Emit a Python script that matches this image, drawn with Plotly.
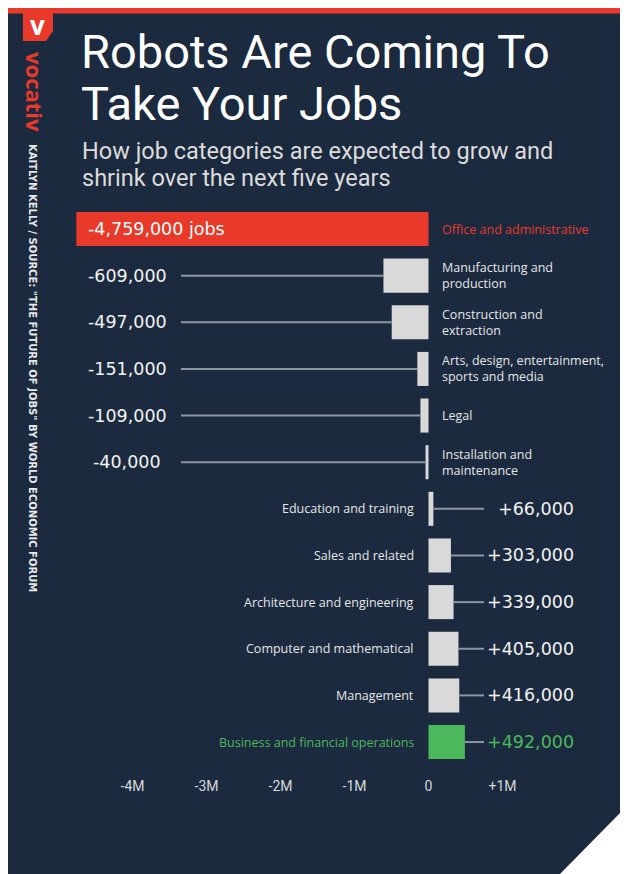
import plotly.graph_objects as go

# ---------------- data ----------------
categories = [
    "Office and administrative",
    "Manufacturing and<br>production",
    "Construction and<br>extraction",
    "Arts, design, entertainment,<br>sports and media",
    "Legal",
    "Installation and<br>maintenance",
    "Education and training",
    "Sales and related",
    "Architecture and engineering",
    "Computer and mathematical",
    "Management",
    "Business and financial operations",
]
values = [-4759000, -609000, -497000, -151000, -109000, -40000,
          66000, 303000, 339000, 405000, 416000, 492000]
tick_values = [-4000000, -3000000, -2000000, -1000000, 0, 1000000]
tick_labels = ["-4M", "-3M", "-2M", "-1M", "0", "+1M"]

title_lines = ["Robots Are Coming To", "Take Your Jobs"]
subtitle_lines = ["How job categories are expected to grow and",
                  "shrink over the next five years"]
credit = 'KAITLYN KELLY / SOURCE: "THE FUTURE OF JOBS" BY WORLD ECONOMIC FORUM'

# ---------------- layout constants (window pixel coords) ----------------
WIN_W, WIN_H = 628, 874
OFF = 8                      # page body margin
W, H = WIN_W - OFF, WIN_H - OFF
ZERO_PX = 428.5
PX_PER_UNIT = 74 / 1e6
ROW0_PX = 229
ROW_STEP = 46.64

NAVY = "#1b2a3e"
RED = "#e8392a"
GREEN = "#4cb85c"
GRAY = "#d9d9d9"
LINE = "#8d97a2"
TXT = "#e6e6e6"


def px2x(px):
    return (px - ZERO_PX) / PX_PER_UNIT


def pxx(px):
    return (px - OFF) / W


def pxy(py):
    return 1 - (py - OFF) / H


n = len(values)
idx = list(range(n))
imin = values.index(min(values))
imax = values.index(max(values))
colors = [RED if i == imin else GREEN if i == imax else GRAY for i in idx]

fig = go.Figure()

# connector lines
neg_x, neg_y, pos_x, pos_y = [], [], [], []
for i, v in enumerate(values):
    if i == imin:
        continue
    if v < 0:
        neg_x += [px2x(181), v, None]
        neg_y += [i, i, None]
    else:
        pos_x += [v, px2x(484), None]
        pos_y += [i, i, None]
fig.add_trace(go.Scatter(x=neg_x, y=neg_y, mode="lines",
                         line=dict(color=LINE, width=2), hoverinfo="skip"))
fig.add_trace(go.Scatter(x=pos_x, y=pos_y, mode="lines",
                         line=dict(color=LINE, width=2), hoverinfo="skip"))

fig.add_trace(go.Bar(x=values, y=idx, orientation="h", width=0.73,
                     marker=dict(color=colors, line=dict(width=0)),
                     hoverinfo="skip"))

ann = []
VAL_FONT = "DejaVu Sans"
LAB_FONT = "Open Sans"
for i, (c, v) in enumerate(zip(categories, values)):
    col_lab = RED if i == imin else GREEN if i == imax else TXT
    col_val = GREEN if i == imax else "#f2f2f2"
    if v < 0:
        if i == imin:
            ann.append(dict(x=pxx(86), xref="paper", y=i, yref="y",
                            text=f"-{abs(v):,} jobs", xanchor="left",
                            showarrow=False,
                            font=dict(family=VAL_FONT, size=17.5, color="#ffffff")))
        else:
            ann.append(dict(x=pxx(127), xref="paper", y=i, yref="y",
                            text=f"-{abs(v):,}", xanchor="center",
                            showarrow=False,
                            font=dict(family=VAL_FONT, size=17.5, color=col_val)))
        ann.append(dict(x=pxx(440), xref="paper", y=i, yref="y", text=c,
                        xanchor="left", align="left", showarrow=False,
                        font=dict(family=LAB_FONT, size=12.5, color=col_lab)))
    else:
        ann.append(dict(x=pxx(576), xref="paper", y=i, yref="y",
                        text=f"+{v:,}", xanchor="right", showarrow=False,
                        font=dict(family=VAL_FONT, size=17.5, color=col_val)))
        ann.append(dict(x=pxx(416), xref="paper", y=i, yref="y", text=c,
                        xanchor="right", align="right", showarrow=False,
                        font=dict(family=LAB_FONT, size=12.5, color=col_lab)))

# titles
ann.append(dict(x=pxx(79), y=pxy(51), xref="paper", yref="paper",
                text=title_lines[0], xanchor="left", yanchor="middle",
                showarrow=False, font=dict(family="Roboto", size=47, color="#ffffff")))
ann.append(dict(x=pxx(79), y=pxy(104), xref="paper", yref="paper",
                text=title_lines[1], xanchor="left", yanchor="middle",
                showarrow=False, font=dict(family="Roboto", size=47, color="#ffffff")))
ann.append(dict(x=pxx(80), y=pxy(151), xref="paper", yref="paper",
                text=subtitle_lines[0], xanchor="left", yanchor="middle",
                showarrow=False, font=dict(family="Roboto", size=23.5, color="#dcdcdc")))
ann.append(dict(x=pxx(80), y=pxy(178), xref="paper", yref="paper",
                text=subtitle_lines[1], xanchor="left", yanchor="middle",
                showarrow=False, font=dict(family="Roboto", size=23.5, color="#dcdcdc")))

# logo + vertical texts
ann.append(dict(x=pxx(37), y=pxy(25), xref="paper", yref="paper",
                text="<b>v</b>", xanchor="center", yanchor="middle",
                showarrow=False, font=dict(family="Open Sans", size=26, color="#ffffff")))
ann.append(dict(x=pxx(35), y=pxy(92), xref="paper", yref="paper",
                text="<b>vocativ</b>", textangle=90, xanchor="center", yanchor="middle",
                showarrow=False, font=dict(family="Open Sans", size=22, color=RED)))
ann.append(dict(x=pxx(33), y=pxy(368), xref="paper", yref="paper",
                text=f"<b>{credit}</b>", textangle=90, xanchor="center", yanchor="middle",
                showarrow=False, font=dict(family="DejaVu Sans", size=10, color="#e8e8e8")))

shapes = [
    dict(type="path", xref="paper", yref="paper", layer="below",
         path=(f"M {pxx(8)} {pxy(13)} L {pxx(628)} {pxy(13)} L {pxx(628)} {pxy(805)} "
               f"L {pxx(560)} {pxy(874)} L {pxx(8)} {pxy(874)} Z"),
         fillcolor=NAVY, line=dict(width=0)),
    dict(type="rect", xref="paper", yref="paper", layer="below",
         x0=pxx(8), x1=pxx(628), y0=pxy(13.5), y1=pxy(8),
         fillcolor=RED, line=dict(width=0)),
    dict(type="path", xref="paper", yref="paper", layer="below",
         path=(f"M {pxx(23)} {pxy(12)} L {pxx(53)} {pxy(12)} L {pxx(53)} {pxy(31)} "
               f"L {pxx(46)} {pxy(41)} L {pxx(23)} {pxy(41)} Z"),
         fillcolor=RED, line=dict(width=0)),
]

fig.update_layout(
    width=W, height=H,
    margin=dict(l=0, r=0, t=0, b=0, pad=0),
    paper_bgcolor="#ffffff",
    plot_bgcolor="rgba(0,0,0,0)",
    showlegend=False,
    barmode="overlay",
    shapes=shapes,
    annotations=ann,
    xaxis=dict(range=[px2x(OFF), px2x(WIN_W)], domain=[0, 1], anchor="free",
               position=(WIN_H - 776) / H, showgrid=False, zeroline=False,
               showline=False, ticks="", tickvals=tick_values, ticktext=tick_labels,
               tickfont=dict(family="Roboto", size=14, color="#d5d8dc"),
               fixedrange=True),
    yaxis=dict(range=[(WIN_H - ROW0_PX) / ROW_STEP, (OFF - ROW0_PX) / ROW_STEP],
               domain=[0, 1], showgrid=False, zeroline=False, showline=False,
               showticklabels=False, ticks="", fixedrange=True),
)

fig.write_html("out.html")
